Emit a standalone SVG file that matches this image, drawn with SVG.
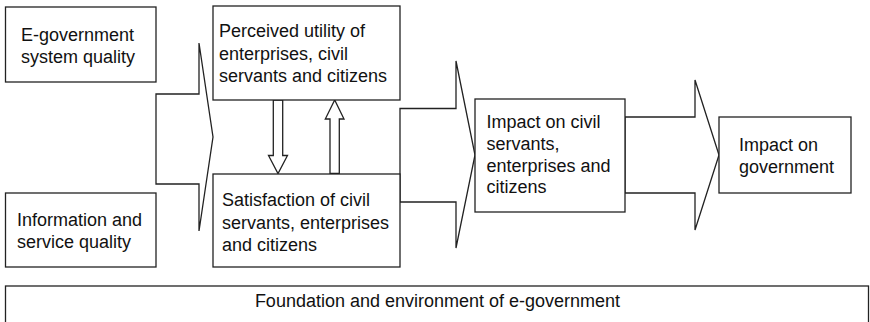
<svg xmlns="http://www.w3.org/2000/svg" width="870" height="322" viewBox="0 0 870 322">
<style>
.box{fill:#fff;stroke:#222;stroke-width:1.3}
.arr{fill:#fff;stroke:#222;stroke-width:1.3;stroke-linejoin:miter}
text{font-family:"Liberation Sans",Arial,sans-serif;font-size:18px;fill:#111}
</style>
<rect width="870" height="322" fill="#fff"/>
<g id="connectors">
<polygon class="arr" points="156,94 199,94 199,43 213,137 199,231 199,184 156,184"/>
<polygon class="arr" points="400,108.5 456,108.5 456,61 475,155 456,248 456,202 400,202"/>
<polygon class="arr" points="625,117 695,117 695,80 719,155 695,230 695,193 625,193"/>
<polygon class="arr" points="273.3,100 282.7,100 282.7,155.5 287.5,155.5 278,173.5 268.5,155.5 273.3,155.5"/>
<polygon class="arr" points="330,173.5 339.3,173.5 339.3,119 344,119 334.7,100 325.3,119 330,119"/>
</g>
<g id="node-system-quality">
<rect class="box" x="5.5" y="7" width="150.5" height="75"/>
<text x="21" y="40.5">E-government</text>
<text x="21" y="63">system quality</text>
</g>
<g id="node-info-quality">
<rect class="box" x="5.5" y="193" width="150.5" height="74"/>
<text x="17" y="225.7">Information and</text>
<text x="17" y="248.3">service quality</text>
</g>
<g id="node-perceived-utility">
<rect class="box" x="213" y="6" width="187" height="94"/>
<text x="219" y="37.3">Perceived utility of</text>
<text x="219" y="59.5">enterprises, civil</text>
<text x="219" y="81.7">servants and citizens</text>
</g>
<g id="node-satisfaction">
<rect class="box" x="213" y="174" width="187" height="93"/>
<text x="222" y="206">Satisfaction of civil</text>
<text x="222" y="228.5">servants, enterprises</text>
<text x="222" y="250.7">and citizens</text>
</g>
<g id="node-impact-civil">
<rect class="box" x="475" y="99" width="150" height="113"/>
<text x="486.5" y="128">Impact on civil</text>
<text x="486.5" y="150">servants,</text>
<text x="486.5" y="171.5">enterprises and</text>
<text x="486.5" y="193">citizens</text>
</g>
<g id="node-impact-government">
<rect class="box" x="719" y="117" width="132" height="76"/>
<text x="739" y="151">Impact on</text>
<text x="739" y="172.5">government</text>
</g>
<g id="node-foundation">
<rect class="box" x="5.5" y="286" width="863" height="60"/>
<text x="437.5" y="307" text-anchor="middle">Foundation and environment of e-government</text>
</g>
</svg>
